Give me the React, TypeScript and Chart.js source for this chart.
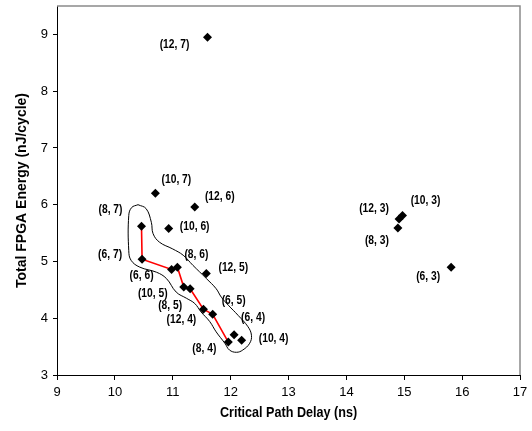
import { useEffect, useRef } from "react";
import { Chart, registerables } from "chart.js";

Chart.register(...registerables);

// Configurations (label shown next to each point)
const configs = [
  "(12, 7)", "(10, 7)", "(12, 6)", "(8, 7)", "(10, 6)", "(6, 7)", "(6, 6)", "(8, 6)",
  "(12, 5)", "(10, 5)", "(8, 5)", "(12, 4)", "(6, 5)", "(6, 4)", "(8, 4)", "(10, 4)",
  "(12, 3)", "(10, 3)", "(8, 3)", "(6, 3)",
];
// Critical path delay (ns)
const delayNs = [
  11.60, 10.70, 11.38, 10.46, 10.93, 10.47, 10.98, 11.08,
  11.58, 11.19, 11.30, 11.53, 11.69, 12.06, 11.96, 12.19,
  14.91, 14.97, 14.89, 15.81,
];
// Total FPGA energy (nJ/cycle)
const energy = [
  8.95, 6.20, 5.96, 5.62, 5.58, 5.04, 4.86, 4.90,
  4.79, 4.55, 4.52, 4.16, 4.07, 3.71, 3.58, 3.61,
  5.75, 5.81, 5.59, 4.90,
];
// Configurations joined by the red line
const frontierConfigs = ["(8, 7)", "(6, 7)", "(6, 6)", "(8, 6)", "(10, 5)", "(8, 5)", "(12, 4)", "(6, 5)", "(8, 4)"];

// Closed outline drawn round the frontier (data coordinates)
const envelopeX = [10.40, 10.54, 10.63, 10.66, 10.77, 11.00, 11.18, 11.35, 11.58, 11.75, 11.84, 11.96, 12.13, 12.30, 12.36, 12.33, 12.21, 12.10, 11.98, 11.90, 11.75, 11.64, 11.49, 11.38, 11.24, 11.06, 10.89, 10.72, 10.43, 10.28, 10.24, 10.24, 10.29, 10.40];
const envelopeY = [6.00, 5.93, 5.69, 5.49, 5.34, 5.22, 5.11, 4.93, 4.70, 4.52, 4.37, 4.23, 4.05, 3.85, 3.70, 3.56, 3.44, 3.40, 3.44, 3.56, 3.76, 3.94, 4.11, 4.26, 4.35, 4.46, 4.70, 4.81, 4.90, 5.02, 5.19, 5.81, 5.95, 6.00];

// Axis ranges / ticks
const xMin = 9, xMax = 17, xStep = 1;
const yMin = 3, yMax = 9.5, yStep = 1;
const xTitle = "Critical Path Delay (ns)";
const yTitle = "Total FPGA Energy (nJ/cycle)";

// Label placement (pixel offsets from each point, styling only)
const labelOffsets: [number, number][] = [
  [-33, 7], [21, -14], [25, -11], [-31, -17], [26, -2], [-32, -5], [-30, 6], [19, -13],
  [27, -6], [-31, 6], [-20, 17], [-22, 10], [21, -14], [19, -17], [-24, 6], [32, -2],
  [-25, -10], [23, -15], [-21, 12], [-23, 9],
];

const SANS = '"Liberation Sans", Arial, sans-serif';

function condensedText(ctx: CanvasRenderingContext2D, text: string, x: number, y: number, sx: number) {
  ctx.save();
  ctx.translate(x, y);
  ctx.scale(sx, 1);
  ctx.fillText(text, 0, 0);
  ctx.restore();
}

export default function App() {
  const ref = useRef<HTMLCanvasElement>(null);

  useEffect(() => {
    document.body.style.margin = "0";
    const canvas = ref.current;
    if (!canvas) return;

    const points = delayNs.map((x, i) => ({ x, y: energy[i] }));
    const frontier = frontierConfigs.map((c) => {
      const i = configs.indexOf(c);
      return { x: delayNs[i], y: energy[i] };
    });
    const envelope = envelopeX.map((x, i) => ({ x, y: envelopeY[i] }));

    const labelPlugin = {
      id: "pointLabels",
      afterDatasetsDraw(chart: any) {
        const { ctx, scales, chartArea } = chart;
        ctx.save();
        ctx.font = `bold 13px ${SANS}`;
        ctx.fillStyle = "#000";
        ctx.textAlign = "center";
        ctx.textBaseline = "middle";
        configs.forEach((c, i) => {
          const px = scales.x.getPixelForValue(delayNs[i]) + labelOffsets[i][0];
          const py = scales.y.getPixelForValue(energy[i]) + labelOffsets[i][1];
          condensedText(ctx, c, px, py, 0.79);
        });
        // x-axis title (condensed, bold)
        ctx.font = `bold 15px ${SANS}`;
        condensedText(ctx, xTitle, (chartArea.left + chartArea.right) / 2, 413, 0.84);
        ctx.restore();
      },
    };

    const framePlugin = {
      id: "frame",
      beforeDatasetsDraw(chart: any) {
        const { ctx, chartArea } = chart;
        const { left, top, right, bottom } = chartArea;
        ctx.save();
        ctx.strokeStyle = "#8a8a8a";
        ctx.lineWidth = 1.5;
        ctx.beginPath();
        ctx.moveTo(left, top);
        ctx.lineTo(right, top);
        ctx.lineTo(right, bottom);
        ctx.stroke();
        ctx.restore();
      },
    };

    const chart = new Chart(canvas, {
      type: "scatter",
      data: {
        datasets: [
          {
            label: "Configurations",
            data: points,
            pointStyle: "rectRot",
            pointRadius: 4.5,
            backgroundColor: "#000",
            borderColor: "#000",
            borderWidth: 0,
            order: 0,
          },
          {
            label: "Frontier",
            data: frontier,
            showLine: true,
            borderColor: "#ff0000",
            borderWidth: 1.6,
            pointRadius: 0,
            tension: 0,
            order: 1,
          },
          {
            label: "Envelope",
            data: envelope,
            showLine: true,
            borderColor: "#000",
            borderWidth: 1,
            pointRadius: 0,
            tension: 0.4,
            order: 2,
          },
        ] as any,
      },
      options: {
        responsive: false,
        animation: false,
        events: [],
        layout: { padding: { top: 6, right: 12, left: 0, bottom: 0 } },
        plugins: {
          legend: { display: false },
          tooltip: { enabled: false },
        },
        scales: {
          x: {
            type: "linear",
            min: xMin,
            max: xMax,
            afterFit: (s: any) => { s.height = 56; s.paddingLeft = 0; s.paddingRight = 0; },
            ticks: {
              stepSize: xStep,
              color: "#000",
              padding: 5,
              font: { family: SANS, size: 13 },
              maxRotation: 0,
            },
            grid: { drawOnChartArea: false, drawTicks: true, tickLength: 5, color: "#000" },
            border: { color: "#000", width: 1 },
            title: { display: false },
          },
          y: {
            type: "linear",
            min: yMin,
            max: yMax,
            afterFit: (s: any) => { s.width = 57; s.paddingTop = 0; s.paddingBottom = 0; },
            afterBuildTicks: (s: any) => {
              s.ticks = s.ticks.filter((t: any) => Number.isInteger(t.value));
            },
            ticks: {
              stepSize: yStep,
              color: "#000",
              padding: 5,
              font: { family: SANS, size: 13 },
            },
            grid: { drawOnChartArea: false, drawTicks: true, tickLength: 4, color: "#000" },
            border: { color: "#000", width: 1 },
            title: {
              display: true,
              text: yTitle,
              color: "#000",
              font: { family: SANS, size: 14, weight: "bold" },
              padding: { top: 14, bottom: 0 },
            },
          },
        },
      } as any,
      plugins: [labelPlugin, framePlugin],
    });

    return () => chart.destroy();
  }, []);

  return (
    <div style={{ width: 532, height: 431, background: "#fff" }}>
      <canvas ref={ref} width={532} height={431} style={{ display: "block" }} />
    </div>
  );
}
